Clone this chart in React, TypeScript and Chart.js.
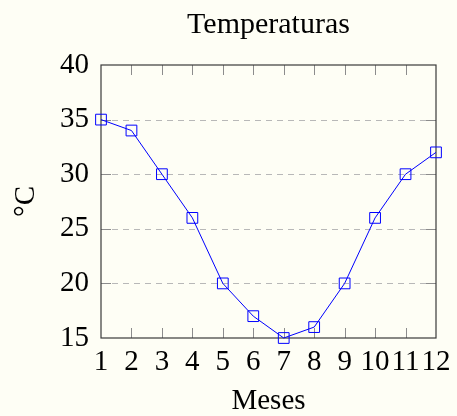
import React, { useEffect, useRef } from "react";
import { Chart, registerables } from "chart.js";

Chart.register(...registerables);

const months = [1, 2, 3, 4, 5, 6, 7, 8, 9, 10, 11, 12];
const temps = [35, 34, 30, 26, 20, 17, 15, 16, 20, 26, 30, 32];
const yTicks = [15, 20, 25, 30, 35, 40];

const title = "Temperaturas";
const xTitle = "Meses";
const yTitle = "°C";

const BG = "#fefef5";
const FONT = "'Liberation Serif', 'DejaVu Serif', serif";

const framePlugin = {
  id: "frame",
  beforeDraw(chart: any) {
    const { ctx, width, height } = chart;
    ctx.save();
    ctx.fillStyle = BG;
    ctx.fillRect(0, 0, width, height);
    ctx.restore();
  },
  beforeDatasetsDraw(chart: any) {
    const { ctx, chartArea, scales } = chart;
    const { left, right, top, bottom } = chartArea;
    const xs = scales.x;
    const ys = scales.y;
    ctx.save();
    ctx.lineWidth = 1;
    // dashed horizontal grid
    ctx.strokeStyle = "#b8b8b8";
    ctx.setLineDash([6, 5]);
    yTicks.slice(1, -1).forEach((v) => {
      const py = Math.round(ys.getPixelForValue(v)) + 0.5;
      ctx.beginPath();
      ctx.moveTo(left, py);
      ctx.lineTo(right, py);
      ctx.stroke();
    });
    ctx.setLineDash([]);
    // inward ticks
    ctx.strokeStyle = "#8c8c8c";
    const tl = 10;
    months.slice(1, -1).forEach((v) => {
      const px = Math.round(xs.getPixelForValue(v)) + 0.5;
      ctx.beginPath();
      ctx.moveTo(px, bottom);
      ctx.lineTo(px, bottom - tl);
      ctx.moveTo(px, top);
      ctx.lineTo(px, top + tl);
      ctx.stroke();
    });
    yTicks.slice(1, -1).forEach((v) => {
      const py = Math.round(ys.getPixelForValue(v)) + 0.5;
      ctx.beginPath();
      ctx.moveTo(left, py);
      ctx.lineTo(left + tl, py);
      ctx.moveTo(right, py);
      ctx.lineTo(right - tl, py);
      ctx.stroke();
    });
    // frame
    ctx.strokeStyle = "#3a3a3a";
    ctx.lineWidth = 1.2;
    ctx.strokeRect(left, top, right - left, bottom - top);
    // title centred over the plot area
    ctx.fillStyle = "#000";
    ctx.font = `30px ${FONT}`;
    ctx.textAlign = "center";
    ctx.textBaseline = "alphabetic";
    ctx.fillText(title, (left + right) / 2, 33);
    ctx.restore();
  },
};

export default function App() {
  const ref = useRef<HTMLCanvasElement | null>(null);

  useEffect(() => {
    document.body.style.margin = "0";
    document.body.style.background = BG;
    const canvas = ref.current;
    if (!canvas) return;
    const chart = new Chart(canvas, {
      type: "line",
      data: {
        datasets: [
          {
            data: months.map((m, i) => ({ x: m, y: temps[i] })),
            borderColor: "#0000ff",
            backgroundColor: "rgba(0,0,0,0)",
            borderWidth: 1,
            pointStyle: "rect",
            pointRadius: 7.6,
            pointBorderWidth: 1,
            pointBorderColor: "#0000ff",
            pointBackgroundColor: "rgba(0,0,0,0)",
            tension: 0,
            clip: false as any,
          },
        ],
      },
      options: {
        responsive: false,
        animation: false,
        devicePixelRatio: 1,
        layout: { padding: { left: 0, right: 21, top: 65, bottom: 0 } },
        plugins: {
          legend: { display: false },
          tooltip: { enabled: false },
          title: { display: false },
        },
        scales: {
          x: {
            type: "linear",
            min: 1,
            max: 12,
            afterBuildTicks: (s: any) => {
              s.ticks = months.map((v) => ({ value: v }));
            },
            afterFit: (s: any) => {
              s.height = 78;
              s.paddingLeft = 0;
              s.paddingRight = 0;
            },
            grid: { display: false, drawTicks: false },
            border: { display: false },
            ticks: {
              color: "#000",
              font: { family: FONT, size: 29 },
              padding: 7,
              maxRotation: 0,
              autoSkip: false,
              callback: (v: any) => String(v),
            },
            title: {
              display: true,
              text: xTitle,
              color: "#000",
              font: { family: FONT, size: 29, lineHeight: 1 },
              padding: 0,
            },
          },
          y: {
            type: "linear",
            min: 15,
            max: 40,
            afterBuildTicks: (s: any) => {
              s.ticks = yTicks.map((v) => ({ value: v }));
            },
            afterFit: (s: any) => {
              s.width = 101;
              s.paddingTop = 0;
              s.paddingBottom = 0;
            },
            grid: { display: false, drawTicks: false },
            border: { display: false },
            ticks: {
              color: "#000",
              font: { family: FONT, size: 29 },
              padding: 12,
              callback: (v: any) => String(v),
            },
            title: {
              display: true,
              text: yTitle,
              color: "#000",
              font: { family: FONT, size: 29, lineHeight: 1 },
              padding: { top: 12, bottom: 0 },
            },
          },
        },
      },
      plugins: [framePlugin],
    });
    return () => chart.destroy();
  }, []);

  return (
    <div style={{ width: 457, height: 416, background: BG }}>
      <canvas ref={ref} width={457} height={416} style={{ display: "block" }} />
    </div>
  );
}
